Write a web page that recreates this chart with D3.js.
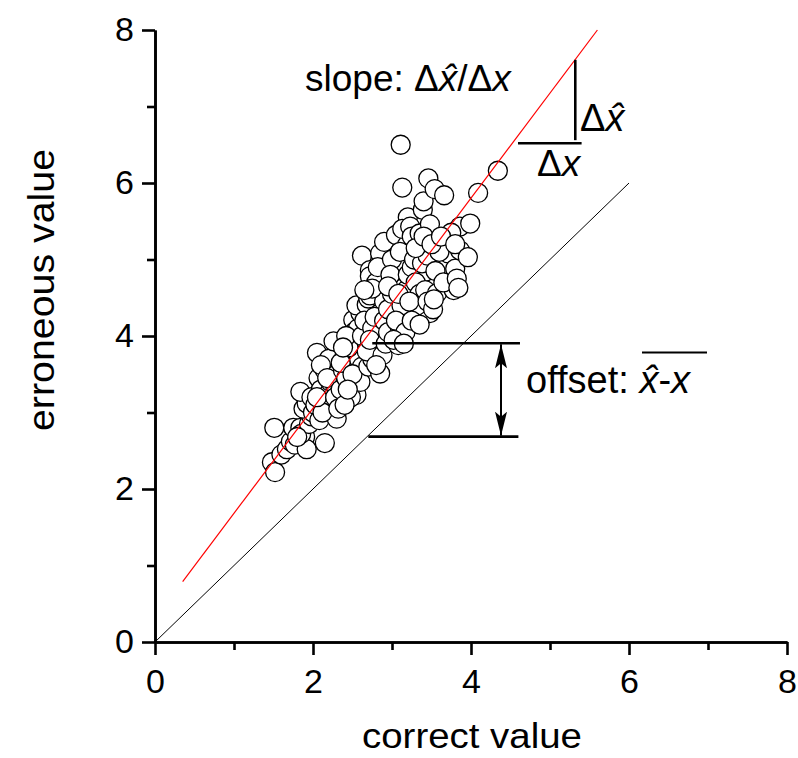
<!DOCTYPE html>
<html><head><meta charset="utf-8">
<script src="https://cdn.jsdelivr.net/npm/d3@7"></script>
<style>
html,body{margin:0;padding:0;background:#fff;}
text{font-family:"Liberation Sans",Arial,sans-serif;fill:#000;}
</style></head>
<body><svg id="chart" width="798" height="758"></svg>
<script>
// ---------- data ----------
const xDomain = [0, 8];
const yDomain = [0, 8];
const majorTicks = [0, 2, 4, 6, 8];
const minorTicks = [1, 3, 5, 7];
const xTitle = "correct value";
const yTitle = "erroneous value";

// scatter: [correct value, erroneous value]
const samples = [
 [1.48,2.35],[1.52,2.22],[1.51,2.80],[1.60,2.45],[1.67,2.52],[1.72,2.62],[1.77,2.58],[1.75,2.80],
 [1.84,2.80],[1.90,2.68],[1.92,2.52],[1.85,2.72],[1.95,2.85],[1.98,2.95],[1.88,3.05],[1.92,3.12],
 [2.00,3.00],[1.84,3.27],[1.98,3.20],[1.80,2.68],
 [2.03,3.10],[2.07,3.45],[2.05,3.78],[2.10,3.30],[2.12,3.18],[2.15,2.60],[2.08,2.90],[2.18,3.05],
 [2.20,3.25],[2.22,3.40],[2.15,3.55],[2.25,3.15],[2.28,3.35],[2.30,2.92],[2.25,3.60],[2.20,3.70],
 [2.10,3.62],[2.26,3.93],[2.30,3.50],[2.12,3.00],[2.05,3.20],[2.18,3.45],[2.28,3.20],[2.32,3.05],
 [2.35,3.30],[2.38,3.55],[2.40,3.75],[2.42,3.45],[2.45,3.62],[2.47,3.95],[2.50,3.80],[2.51,4.21],
 [2.53,4.06],[2.55,3.23],[2.55,3.55],[2.48,3.20],[2.40,3.10],[2.58,3.70],[2.60,3.90],[2.57,4.10],
 [2.45,3.85],[2.35,3.65],[2.52,3.40],[2.62,3.60],[2.60,4.30],[2.55,4.40],[2.42,4.00],[2.38,3.85],
 [2.62,4.00],[2.60,3.40],[2.50,3.50],[2.44,3.30],
 [2.62,5.05],[2.68,4.41],[2.70,4.49],[2.72,4.53],[2.72,4.86],[2.72,4.78],[2.65,4.20],[2.70,3.60],
 [2.75,3.70],[2.78,3.85],[2.80,4.00],[2.82,4.15],[2.85,3.51],[2.85,4.30],[2.85,5.08],[2.88,4.60],
 [2.90,5.23],[2.90,4.45],[2.75,4.10],[2.80,4.70],[2.78,4.25],[2.68,3.80],[2.72,3.95],[2.88,3.75],
 [2.92,3.90],[2.90,4.20],[2.82,4.90],[2.75,4.62],[2.65,4.60],[2.80,3.62],[2.95,4.05],
 [2.95,4.35],[3.00,4.55],[3.02,4.70],[3.05,5.32],[3.05,4.85],[3.08,3.88],[3.10,4.10],[3.11,6.50],
 [3.13,5.94],[3.15,4.25],[3.15,4.95],[3.18,4.60],[3.19,5.19],[3.20,5.55],[3.12,4.40],[3.00,5.00],
 [2.98,4.80],[3.10,5.10],[3.05,4.20],[3.17,4.05],[3.20,4.80],[3.02,3.95],[2.95,4.65],[3.15,3.90],
 [3.08,4.55],[3.13,5.40],
 [3.23,5.43],[3.25,5.30],[3.35,5.34],[3.38,5.17],[3.39,5.65],[3.40,5.76],[3.42,4.84],[3.46,6.06],
 [3.48,5.46],[3.48,4.30],[3.25,4.90],[3.30,4.70],[3.28,5.00],[3.35,4.55],[3.32,4.40],[3.22,4.45],
 [3.38,4.95],[3.45,5.05],[3.42,4.60],[3.30,5.15],[3.25,4.20],[3.35,4.15],[3.45,4.45],[3.40,5.30],
 [3.54,5.92],[3.57,4.56],[3.66,5.84],[3.71,5.23],[3.71,5.08],[3.78,4.60],[3.80,4.88],[3.86,5.43],
 [3.86,5.12],[3.99,5.47],[4.09,5.87],[4.34,6.16],[3.55,4.85],[3.60,5.10],[3.65,4.70],[3.50,5.20],
 [3.75,5.35],[3.52,4.35],[3.62,5.30],[3.82,4.75],[3.80,5.20],[3.96,5.03],[3.84,4.63],[3.53,4.48]
];

// reference lines
const fitLineX = [0.35, 5.60];
const fitLineY = [0.79, 8.00];
const identityX = [0, 6];
const identityY = [0, 6];

// annotation geometry (data units)
const offsetTop = 3.905, offsetBottom = 2.684;
const offsetTopX = [2.75, 4.62], offsetBottomX = [2.70, 4.60], offsetArrowX = 4.38;
const slopeVX = 5.32, slopeVY = [6.56, 7.61];
const slopeHY = 6.52, slopeHX = [4.595, 5.40];

// ---------- chart ----------
const svg = d3.select("#chart");
const x = d3.scaleLinear().domain(xDomain).range([155, 787]);
const y = d3.scaleLinear().domain(yDomain).range([642, 30]);

const defs = svg.append("defs");
defs.append("marker").attr("id","ah").attr("viewBox","0 0 24 12").attr("refX",24).attr("refY",6)
  .attr("markerWidth",24).attr("markerHeight",12).attr("markerUnits","userSpaceOnUse")
  .attr("orient","auto-start-reverse")
  .append("path").attr("d","M0,0 L24,6 L0,12 L5,6 Z").attr("fill","#000");

// points
svg.append("g").selectAll("circle").data(samples).join("circle")
  .attr("cx", d => x(d[0])).attr("cy", d => y(d[1])).attr("r", 9.5)
  .attr("fill", "#fff").attr("stroke", "#000").attr("stroke-width", 1.3);

// lines
const line = d3.line().x(d => x(d[0])).y(d => y(d[1]));
svg.append("path").attr("d", line(identityX.map((v,i)=>[v, identityY[i]])))
  .attr("stroke","#000").attr("stroke-width",1).attr("fill","none");
svg.append("path").attr("d", line(fitLineX.map((v,i)=>[v, fitLineY[i]])))
  .attr("stroke","#ff0000").attr("stroke-width",1.2).attr("fill","none");

// axes
function styleAxis(g){
  g.select(".domain").attr("stroke","#000").attr("stroke-width",2.6);
  g.selectAll(".tick line").attr("stroke","#000").attr("stroke-width",2.6);
  g.selectAll(".tick text").attr("font-size",34).attr("fill","#000")
   .attr("font-family","'Liberation Sans',Arial,sans-serif");
}
svg.append("g").attr("transform","translate(0,642)")
  .call(d3.axisBottom(x).tickValues(minorTicks).tickSize(8).tickSizeOuter(0).tickFormat(""))
  .call(styleAxis);
svg.append("g").attr("transform","translate(0,642)")
  .call(d3.axisBottom(x).tickValues(majorTicks).tickSize(13).tickSizeOuter(0).tickPadding(14).tickFormat(d3.format("d")))
  .call(styleAxis);
svg.append("g").attr("transform","translate(155,0)")
  .call(d3.axisLeft(y).tickValues(minorTicks).tickSize(8).tickSizeOuter(0).tickFormat(""))
  .call(styleAxis);
svg.append("g").attr("transform","translate(155,0)")
  .call(d3.axisLeft(y).tickValues(majorTicks).tickSize(13).tickSizeOuter(0).tickPadding(8).tickFormat(d3.format("d")))
  .call(styleAxis);

// titles
svg.append("text").attr("x", 472).attr("y", 748).attr("text-anchor","middle")
  .attr("font-size",35).attr("textLength",220).attr("lengthAdjust","spacingAndGlyphs").text(xTitle);
svg.append("text").attr("transform","translate(54,290) rotate(-90)").attr("text-anchor","middle")
  .attr("font-size",37).attr("textLength",282).attr("lengthAdjust","spacingAndGlyphs").text(yTitle);

// offset annotation
const ann = svg.append("g").attr("stroke","#000").attr("stroke-width",2.6);
ann.append("line").attr("x1",x(offsetTopX[0])).attr("x2",x(offsetTopX[1])).attr("y1",y(offsetTop)).attr("y2",y(offsetTop));
ann.append("line").attr("x1",x(offsetBottomX[0])).attr("x2",x(offsetBottomX[1])).attr("y1",y(offsetBottom)).attr("y2",y(offsetBottom));
ann.append("line").attr("x1",x(offsetArrowX)).attr("x2",x(offsetArrowX)).attr("y1",y(offsetTop)+1).attr("y2",y(offsetBottom)-1)
  .attr("stroke-width",2).attr("marker-start","url(#ah)").attr("marker-end","url(#ah)");
// slope annotation
ann.append("line").attr("x1",x(slopeVX)).attr("x2",x(slopeVX)).attr("y1",y(slopeVY[0])).attr("y2",y(slopeVY[1]));
ann.append("line").attr("x1",x(slopeHX[0])).attr("x2",x(slopeHX[1])).attr("y1",y(slopeHY)).attr("y2",y(slopeHY));

// texts
const t1 = svg.append("text").attr("x",305).attr("y",91).attr("font-size",37);
t1.append("tspan").text("slope: Δ");
t1.append("tspan").attr("font-style","italic").text("x\u0302");
t1.append("tspan").text("/Δ");
t1.append("tspan").attr("font-style","italic").text("x");

const t2 = svg.append("text").attr("x",580).attr("y",131).attr("font-size",38);
t2.append("tspan").text("Δ");
t2.append("tspan").attr("font-style","italic").text("x\u0302");

const t3 = svg.append("text").attr("x",537).attr("y",176).attr("font-size",37);
t3.append("tspan").text("Δ");
t3.append("tspan").attr("font-style","italic").text("x");

const t4 = svg.append("text").attr("x",526).attr("y",393).attr("font-size",38);
t4.append("tspan").text("offset: ");
t4.append("tspan").attr("font-style","italic").text("x\u0302");
t4.append("tspan").text("-");
t4.append("tspan").attr("font-style","italic").text("x");
svg.append("line").attr("x1",642).attr("x2",707).attr("y1",352.5).attr("y2",352.5).attr("stroke","#000").attr("stroke-width",1.8);
</script></body></html>
